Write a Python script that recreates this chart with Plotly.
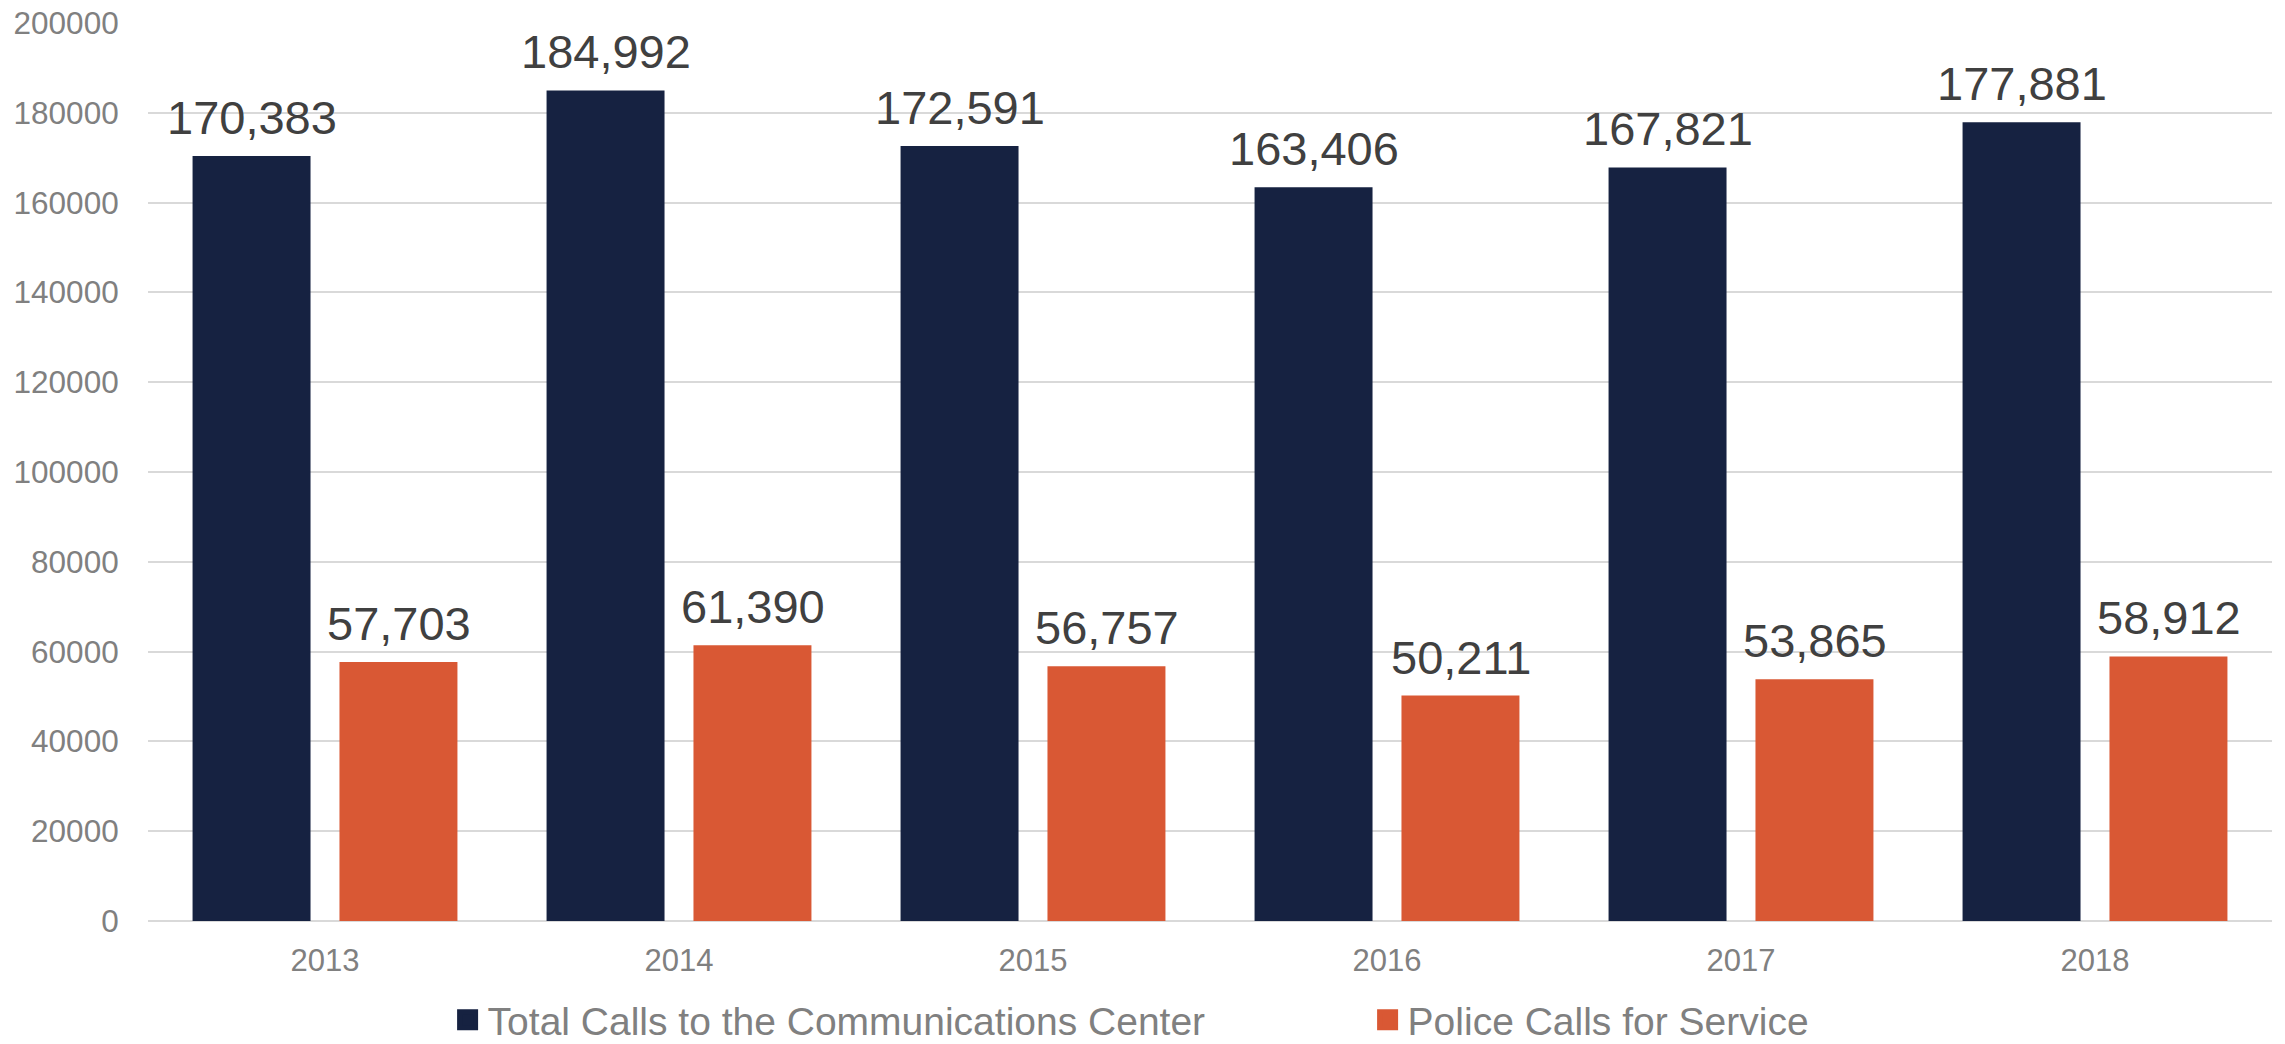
import plotly.graph_objects as go

years = ["2013", "2014", "2015", "2016", "2017", "2018"]
total_calls = [170383, 184992, 172591, 163406, 167821, 177881]
police_calls = [57703, 61390, 56757, 50211, 53865, 58912]
series_names = ["Total Calls to the Communications Center", "Police Calls for Service"]
y_ticks = [0, 20000, 40000, 60000, 80000, 100000, 120000, 140000, 160000, 180000, 200000]

NAVY = "#162241"
ORANGE = "#D95834"
FONT = "Arial, Liberation Sans, sans-serif"

fig = go.Figure()
series = [(total_calls, series_names[0], NAVY), (police_calls, series_names[1], ORANGE)]
for vals, name, col in series:
    fig.add_trace(go.Bar(x=years, y=vals, name=name, legendgroup=name, showlegend=False,
                         marker=dict(color=col, line=dict(width=0))))
# legend entries with larger square swatches
for vals, name, col in series:
    fig.add_trace(go.Scatter(x=[None], y=[None], mode="markers", name=name,
                             legendgroup=name, hoverinfo="skip",
                             marker=dict(symbol="square", size=16, color=col,
                                         line=dict(width=5, color=col))))

# data labels (x given as category index on the category axis)
for i, (vals, _, _) in enumerate(series):
    for j, yv in enumerate(vals):
        fig.add_annotation(x=j, y=yv, xref="x", yref="y",
                           text=f"{yv:,}", showarrow=False,
                           xshift=(-1 if i == 0 else 1) * 73.5,
                           yanchor="bottom", yshift=10,
                           font=dict(family=FONT, size=47, color="#404040"))

fig.update_layout(
    width=2285, height=1044,
    margin=dict(l=148, r=13, t=23, b=123, autoexpand=False),
    paper_bgcolor="white", plot_bgcolor="white",
    barmode="group", bargap=0.17, bargroupgap=0.197,
    font=dict(family=FONT, color="#808080"),
    legend=dict(orientation="h", x=0.5742, xanchor="center",
                y=-0.11, yanchor="middle",
                font=dict(family=FONT, size=39, color="#808080"),
                entrywidth=875, entrywidthmode="pixels"),
    showlegend=True,
)
fig.update_xaxes(type="category", categoryorder="array", categoryarray=years,
                 range=[-0.5, len(years) - 0.5],
                 showgrid=False, showline=False, zeroline=False,
                 tickfont=dict(family=FONT, size=31, color="#808080"),
                 ticks="outside", ticklen=12, tickcolor="rgba(0,0,0,0)")
fig.update_yaxes(range=[0, 200000], tickvals=y_ticks, tickformat="d",
                 showgrid=True, gridcolor="#D9D9D9", gridwidth=1.5,
                 zeroline=True, zerolinecolor="#D9D9D9", zerolinewidth=2,
                 showline=False,
                 tickfont=dict(family=FONT, size=31.5, color="#808080"),
                 ticks="outside", ticklen=22, tickcolor="rgba(0,0,0,0)")

fig.write_html("out.html", config={"displayModeBar": False},
               post_script="document.body.style.margin='0';")
